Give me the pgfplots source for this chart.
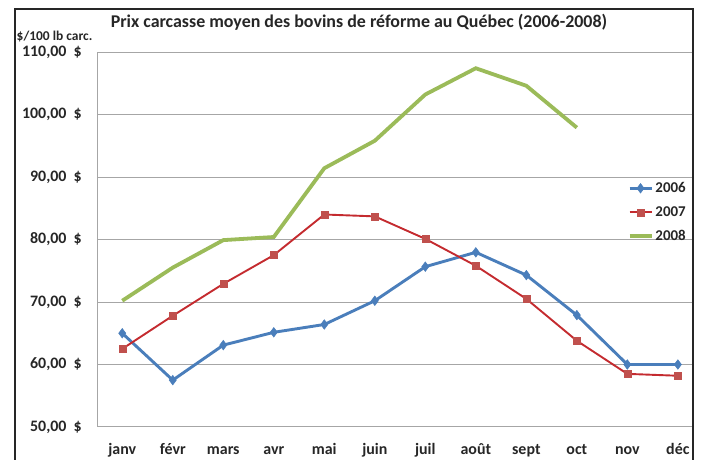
\documentclass[border=0pt]{standalone}
\usepackage{fontspec}
\setmainfont{Carlito}
\usepackage{pgfplots}
\pgfplotsset{compat=1.18}
\definecolor{bleu}{HTML}{4A7EBB}
\definecolor{rougemk}{HTML}{C0504D}
\definecolor{rouge}{HTML}{C42B2F}
\definecolor{vert}{HTML}{9BBB59}
\definecolor{grille}{HTML}{A6A6A6}
\definecolor{texte}{HTML}{262626}
\newcommand\dol[1]{#1\hspace{0.45em}\$}
\begin{document}
\begin{tikzpicture}
\path[use as bounding box] (0,0) rectangle (701bp,460bp);
\begin{axis}[at={(97bp,33bp)}, anchor=south west, scale only axis,
    width=596bp, height=375bp,
    xmin=-0.5, xmax=11.3, ymin=50, ymax=110,
    xtick={0,...,11},
    xticklabels={janv,févr,mars,avr,mai,juin,juil,août,sept,oct,nov,déc},
    ytick={50,60,...,110},
    yticklabels={{\dol{50,00}},{\dol{60,00}},{\dol{70,00}},{\dol{80,00}},{\dol{90,00}},{\dol{100,00}},{\dol{110,00}}},
    major tick length=0pt,
    ymajorgrids, grid style={grille, line width=1bp},
    axis line style={grille, line width=1bp},
    tick label style={font=\bfseries\fontsize{16}{18}\selectfont, text=texte},
    xticklabel style={anchor=base, yshift=-28bp},
    yticklabel style={anchor=east, inner sep=0pt, xshift=-15bp},
    legend style={at={(0.89,0.658)}, anchor=north west, draw=none, fill=none,
        font=\bfseries\fontsize{15}{17}\selectfont, text=texte,
        row sep=8.5bp, inner sep=0pt},
    legend cell align=left,
    legend image code/.code={\draw[mark repeat=2,mark phase=2] plot coordinates {(0bp,0bp) (11bp,0bp) (22bp,0bp)};},
    clip=false]
\addplot[bleu, line width=2.9bp, mark=diamond*, mark size=4.8bp, mark options={solid, fill=bleu, line width=0.5bp}]
    coordinates {(0,65.0) (1,57.5) (2,63.1) (3,65.15) (4,66.4) (5,70.2)
                 (6,75.65) (7,77.95) (8,74.3) (9,67.9) (10,60.0) (11,60.0)};
\addlegendentry{2006}
\addplot[rouge, line width=1.9bp, mark=square*, mark size=3.5bp, mark options={solid, fill=rougemk, draw=rougemk, line width=0.3bp}]
    coordinates {(0,62.5) (1,67.8) (2,72.9) (3,77.5) (4,84.0) (5,83.7)
                 (6,80.1) (7,75.8) (8,70.5) (9,63.8) (10,58.5) (11,58.2)};
\addlegendentry{2007}
\addplot[vert, line width=3.8bp, no marks]
    coordinates {(0,70.2) (1,75.5) (2,79.9) (3,80.4) (4,91.4) (5,95.8)
                 (6,103.2) (7,107.4) (8,104.6) (9,97.9)};
\addlegendentry{2008}
\end{axis}
% cadre du graphique (coupé en bas)
\draw[texte, line width=1.3bp] (15bp,0bp) -- (15bp,451bp) -- (693bp,451bp) -- (693bp,0bp);
\node[font=\bfseries\fontsize{18}{21}\selectfont, text=texte] at (359bp,438bp)
    {Prix carcasse moyen des bovins de réforme au Québec (2006-2008)};
\node[font=\bfseries\fontsize{13.5}{16}\selectfont, text=texte, anchor=base west, inner sep=0pt] at (16.5bp,419bp)
    {\$/100 lb carc.};
\end{tikzpicture}
\end{document}
